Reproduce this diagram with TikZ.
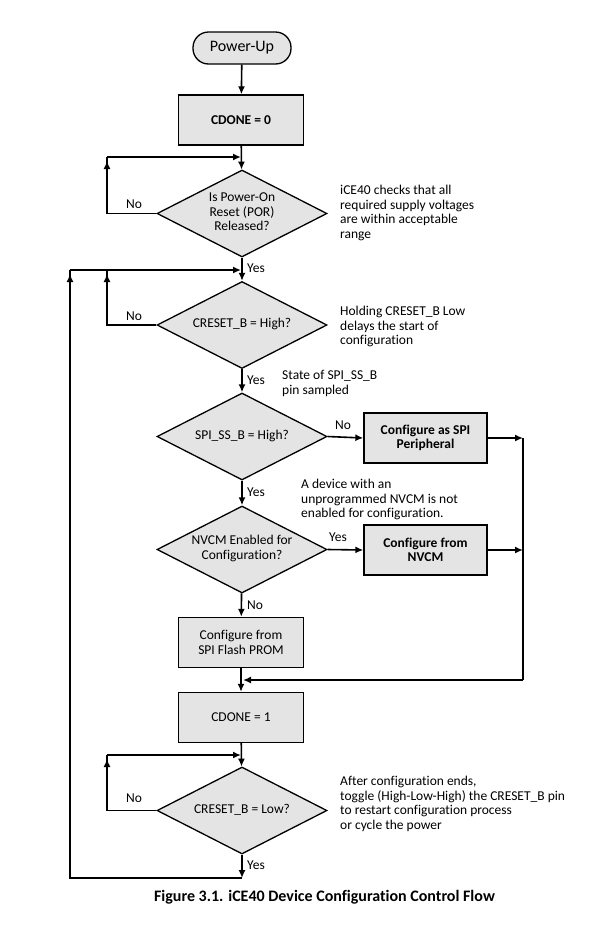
\documentclass[tikz,border=0pt]{standalone}
\usepackage{fontspec}
\setmainfont{Carlito}[Ligatures={NoCommon,NoContextual}]
\usetikzlibrary{shapes.geometric,arrows.meta,calc}
\definecolor{boxgray}{RGB}{228,228,228}
\newcommand{\dtext}[1]{\makebox[0pt]{\smash{\raisebox{-0.25em}{\begin{tabular}[c]{@{}c@{}}#1\end{tabular}}}}}
\begin{document}
\begin{tikzpicture}[x=1pt,y=-1pt,
  every node/.style={font=\fontsize{13.5pt}{14.6pt}\selectfont},
  line/.style={line width=1.6pt},
  arr/.style={line width=1.6pt,-{Latex[length=8pt,width=7pt]}},
  termbox/.style={draw,line width=1.3pt,fill=boxgray,rectangle,rounded corners=15.5pt,minimum width=98pt,minimum height=32pt,inner sep=0pt},
  procbox/.style={draw,line width=1.3pt,fill=boxgray,rectangle,minimum width=125pt,minimum height=50pt,inner sep=0pt,align=center},
  decbox/.style={draw,line width=1.3pt,fill=boxgray,diamond,minimum width=170pt,minimum height=87pt,inner sep=0pt},
  lbl/.style={inner sep=0pt,anchor=west},
  note/.style={inner sep=0pt,anchor=north west,align=left}
]
\useasboundingbox (0,0) rectangle (604,935);
\fill[white] (0,0) rectangle (604,935);

% nodes
\node[termbox,font=\fontsize{16pt}{18pt}\selectfont] (pu) at (242,48) {Power-Up};
\node[procbox] (c0) at (241,120) {\textbf{CDONE = 0}};
\node[decbox] (d1) at (242,213.5) {\dtext{Is Power-On\\Reset (POR)\\Released?}};
\node[decbox] (d2) at (242,325) {\dtext{CRESET\_B = High?}};
\node[decbox] (d3) at (242,436.5) {\dtext{SPI\_SS\_B = High?}};
\node[decbox] (d4) at (242,549.5) {\dtext{NVCM Enabled for\\Configuration?}};
\node[procbox,minimum width=123pt] (spi) at (425.5,438) {\textbf{Configure as SPI}\\\textbf{Peripheral}};
\node[procbox,minimum width=123pt] (nvcm) at (425.5,550) {\textbf{Configure from}\\\textbf{NVCM}};
\node[procbox] (flash) at (241,642.5) {Configure from\\SPI Flash PROM};
\node[procbox] (c1) at (241,717.5) {CDONE = 1};
\node[decbox] (d5) at (242,810.5) {\dtext{CRESET\_B = Low?}};

% coordinates
\coordinate (j1) at (242,157);
\coordinate (l1) at (107,157);
\coordinate (j2) at (242,270);
\coordinate (l2) at (107,270);
\coordinate (o2) at (70,270);
\coordinate (ob) at (70,878);
\coordinate (yb) at (242,878);
\coordinate (rs) at (523,438);
\coordinate (rn) at (523,550);
\coordinate (rb) at (523,680);
\coordinate (jm) at (242,680);
\coordinate (j5) at (242,755);
\coordinate (l5) at (107,755);

% main flow
\draw[arr] (pu) -- (c0);
\draw[arr] (c0) -- (d1);
\draw[arr] (d1) -- (d2);
\draw[arr] (d2) -- (d3);
\draw[arr] (d3) -- (d4);
\draw[arr] (d4) -- (flash);
\draw[arr] (flash) -- (c1);
\draw[arr] (c1) -- (d5);
\draw[arr] (d5) -- (yb);

% loops
\draw[line] (d1.west) -| (l1);
\draw[arr,shorten >=1pt] (l1) -- (j1);
\draw[arr] (d1.west -| l1) -- ($(l1)+(0,4)$);

\draw[line] (d2.west) -| (l2);
\draw[arr,shorten >=1pt] (o2) -- (j2);
\draw[arr] (d2.west -| l2) -- ($(l2)+(0,4)$);

\draw[line] (d5.west) -| (l5);
\draw[arr,shorten >=1pt] (l5) -- (j5);
\draw[arr] (d5.west -| l5) -- ($(l5)+(0,4)$);

\draw[line] (yb) -- (ob) -- (o2);
\draw[arr] (ob) -- ($(o2)+(0,4)$);

% right branches
\draw[arr] (d3.east) -- (spi.west);
\draw[arr] (d4.east) -- (nvcm.west);
\draw[arr] (spi.east) -- (rs);
\draw[arr] (nvcm.east) -- (rn);
\draw[line] (rs) -- (rb);
\draw[arr,shorten >=1pt] (rb) -- (jm);

% labels
\node[lbl] (n1) at (126,204) {No};
\node[lbl] (n2) at (126,316) {No};
\node[lbl] (n5) at (126,798) {No};
\node[lbl] (y1) at (247,268) {Yes};
\node[lbl] (y2) at (247,380) {Yes};
\node[lbl] (y3) at (247,492) {Yes};
\node[lbl] (n4) at (247,605) {No};
\node[lbl] (y5) at (247,865) {Yes};
\node[lbl] (n3) at (335,425) {No};
\node[lbl] (y4) at (329,537) {Yes};

% notes
\node[note] (t1) at (340,185) {iCE40 checks that all\\required supply voltages\\are within acceptable\\range};
\node[note] (t2) at (340,306) {Holding CRESET\_B Low\\delays the start of\\configuration};
\node[note] (t3) at (282,370) {State of SPI\_SS\_B\\pin sampled};
\node[note] (t4) at (301,479) {A device with an\\unprogrammed NVCM is not\\enabled for configuration.};
\node[note] (t5) at (340,776) {After configuration ends,\\toggle (High-Low-High) the CRESET\_B pin\\to restart configuration process\\or cycle the power};

% caption
\node[font=\fontsize{16pt}{18pt}\selectfont\bfseries] (cap) at (324.5,897) {Figure 3.1. iCE40 Device Configuration Control Flow};
\end{tikzpicture}
\end{document}
